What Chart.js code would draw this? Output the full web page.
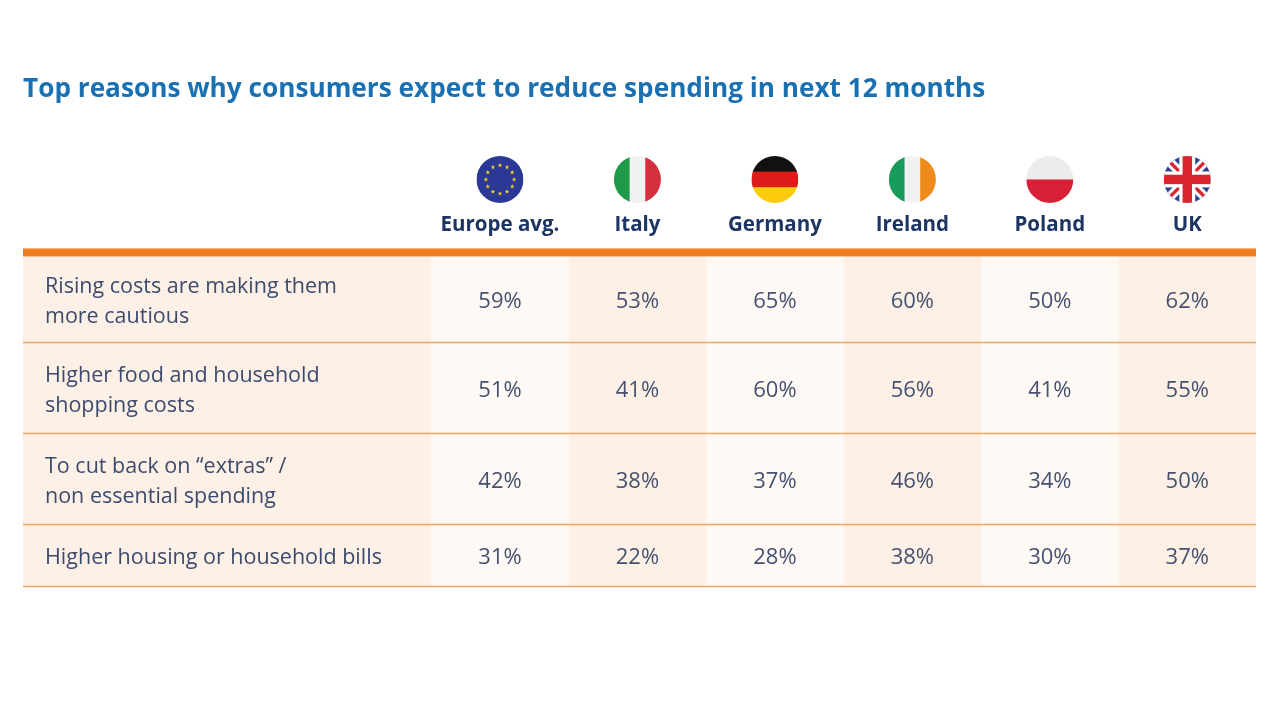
<!DOCTYPE html>
<html>
<head>
<meta charset="utf-8">
<script src="https://cdn.jsdelivr.net/npm/chart.js@4.4.1/dist/chart.umd.min.js"></script>
<style>
  html, body { margin: 0; padding: 0; background: #ffffff; }
  #wrap { width: 1280px; height: 720px; }
</style>
</head>
<body>
<div id="wrap"><canvas id="tableChart"></canvas></div>
<script>
// data
const reasons = [
  ['Rising costs are making them', 'more cautious'],
  ['Higher food and household', 'shopping costs'],
  ['To cut back on \u201cextras\u201d /', 'non essential spending'],
  ['Higher housing or household bills']
];
const countries = ['Europe avg.', 'Italy', 'Germany', 'Ireland', 'Poland', 'UK'];
const flags = ['eu', 'it', 'de', 'ie', 'pl', 'uk'];

const europeAvg = [59, 51, 42, 31];
const italy     = [53, 41, 38, 22];
const germany   = [65, 60, 37, 28];
const ireland   = [60, 56, 46, 38];
const poland    = [50, 41, 34, 30];
const uk        = [62, 55, 50, 37];
const seriesValues = [europeAvg, italy, germany, ireland, poland, uk];

// layout (table units, not data)
const labelSpan = 2.97;            // label column width in column units
const rowSizes = [87, 91, 91, 62];  // relative row heights
const rowEdges = [0];
rowSizes.forEach((s, i) => rowEdges.push(rowEdges[i] + s));
const rowMid = i => (rowEdges[i] + rowEdges[i + 1]) / 2 + 2;

const FONT = "'Open Sans'";
const peach = '#fdf1e7';
const light = '#fef9f5';
const orange = '#ee7d1c';
const thinLine = '#f0a561';

function drawFlag(ctx, kind, cx, cy, r) {
  ctx.save();
  ctx.beginPath();
  ctx.arc(cx, cy, r, 0, Math.PI * 2);
  ctx.clip();
  const x0 = cx - r, y0 = cy - r, d = 2 * r;
  if (kind === 'eu') {
    ctx.fillStyle = '#2b3896';
    ctx.fillRect(x0, y0, d, d);
    ctx.fillStyle = '#f6d21c';
    for (let k = 0; k < 12; k++) {
      const a = k * Math.PI / 6;
      const sx = cx + Math.cos(a) * r * 0.6, sy = cy + Math.sin(a) * r * 0.6;
      ctx.beginPath();
      for (let p = 0; p < 10; p++) {
        const rr = p % 2 === 0 ? 2.4 : 1.0;
        const aa = -Math.PI / 2 + p * Math.PI / 5;
        ctx.lineTo(sx + Math.cos(aa) * rr, sy + Math.sin(aa) * rr);
      }
      ctx.closePath();
      ctx.fill();
    }
  } else if (kind === 'it' || kind === 'ie') {
    const cols = kind === 'it' ? ['#1f9a4b', '#f1f1f1', '#d3313d'] : ['#179a5a', '#f1f1f1', '#ef8a1d'];
    cols.forEach((c, k) => { ctx.fillStyle = c; ctx.fillRect(x0 + k * d / 3, y0, d / 3 + 0.5, d); });
  } else if (kind === 'de') {
    ['#111111', '#dd1c1c', '#fccc0a'].forEach((c, k) => { ctx.fillStyle = c; ctx.fillRect(x0, y0 + k * d / 3, d, d / 3 + 0.5); });
  } else if (kind === 'pl') {
    ctx.fillStyle = '#ececec'; ctx.fillRect(x0, y0, d, d / 2);
    ctx.fillStyle = '#d81f35'; ctx.fillRect(x0, cy, d, d / 2);
  } else if (kind === 'uk') {
    ctx.fillStyle = '#2a3f8f';
    ctx.fillRect(x0, y0, d, d);
    ctx.lineCap = 'butt';
    ctx.strokeStyle = '#ffffff'; ctx.lineWidth = d * 0.2;
    ctx.beginPath(); ctx.moveTo(x0, y0); ctx.lineTo(x0 + d, y0 + d); ctx.moveTo(x0 + d, y0); ctx.lineTo(x0, y0 + d); ctx.stroke();
    ctx.strokeStyle = '#d9232e'; ctx.lineWidth = d * 0.07;
    ctx.beginPath(); ctx.moveTo(x0, y0); ctx.lineTo(x0 + d, y0 + d); ctx.moveTo(x0 + d, y0); ctx.lineTo(x0, y0 + d); ctx.stroke();
    ctx.fillStyle = '#ffffff';
    ctx.fillRect(cx - d * 0.17, y0, d * 0.34, d);
    ctx.fillRect(x0, cy - d * 0.17, d, d * 0.34);
    ctx.fillStyle = '#d9232e';
    ctx.fillRect(cx - d * 0.1, y0, d * 0.2, d);
    ctx.fillRect(x0, cy - d * 0.1, d, d * 0.2);
  }
  ctx.restore();
}

const tablePlugin = {
  id: 'tablePlugin',
  beforeDatasetsDraw(chart) {
    const { ctx, chartArea, scales: { x, y } } = chart;
    ctx.save();
    // label column
    ctx.fillStyle = peach;
    ctx.fillRect(x.getPixelForValue(-labelSpan), chartArea.top, x.getPixelForValue(0) - x.getPixelForValue(-labelSpan), chartArea.bottom - chartArea.top);
    // country columns
    countries.forEach((c, i) => {
      ctx.fillStyle = i % 2 === 0 ? light : peach;
      const l = x.getPixelForValue(i), r = x.getPixelForValue(i + 1);
      ctx.fillRect(l, chartArea.top, r - l, chartArea.bottom - chartArea.top);
    });
    // thick header rule
    ctx.fillStyle = orange;
    ctx.fillRect(chartArea.left, chartArea.top - 8, chartArea.right - chartArea.left, 8);
    // row rules
    ctx.strokeStyle = thinLine;
    ctx.lineWidth = 1.5;
    rowEdges.slice(1).forEach(v => {
      const py = Math.round(y.getPixelForValue(v)) - 0.5;
      ctx.beginPath(); ctx.moveTo(chartArea.left, py); ctx.lineTo(chartArea.right, py); ctx.stroke();
    });
    // header: flags and names
    ctx.textAlign = 'center';
    ctx.textBaseline = 'middle';
    countries.forEach((c, i) => {
      const cx = x.getPixelForValue(i + 0.5);
      drawFlag(ctx, flags[i], cx, chartArea.top - 77, 23.5);
      ctx.fillStyle = '#1c3562';
      ctx.font = 'bold 20.5px ' + FONT;
      ctx.fillText(c, cx, chartArea.top - 31);
    });
    // row labels
    ctx.textAlign = 'left';
    ctx.fillStyle = '#3c4b6d';
    ctx.font = '21.5px ' + FONT;
    reasons.forEach((lines, r) => {
      const cy = y.getPixelForValue(rowMid(r));
      const lx = x.getPixelForValue(-labelSpan) + 22;
      lines.forEach((t, k) => {
        ctx.fillText(t, lx, cy + (k - (lines.length - 1) / 2) * 30);
      });
    });
    ctx.restore();
  },
  afterDatasetsDraw(chart) {
    const { ctx } = chart;
    ctx.save();
    ctx.textAlign = 'center';
    ctx.textBaseline = 'middle';
    ctx.fillStyle = '#45516f';
    ctx.font = '22px ' + FONT;
    chart.data.datasets.forEach((ds, i) => {
      chart.getDatasetMeta(i).data.forEach((pt, j) => {
        ctx.fillText(ds.data[j].v + '%', pt.x, pt.y);
      });
    });
    ctx.restore();
  }
};

new Chart(document.getElementById('tableChart'), {
  type: 'scatter',
  data: {
    datasets: countries.map((c, i) => ({
      label: c,
      data: seriesValues[i].map((v, r) => ({ x: i + 0.5, y: rowMid(r), v: v })),
      pointRadius: 0,
      pointHoverRadius: 0
    }))
  },
  options: {
    responsive: true,
    maintainAspectRatio: false,
    animation: false,
    layout: { padding: { left: 23, right: 24, top: 0, bottom: 133 } },
    scales: {
      x: { type: 'linear', min: -labelSpan, max: countries.length, display: false },
      y: { type: 'linear', min: 0, max: rowEdges[rowEdges.length - 1], reverse: true, display: false }
    },
    plugins: {
      legend: { display: false },
      tooltip: { enabled: false },
      title: {
        display: true,
        text: 'Top reasons why consumers expect to reduce spending in next 12 months',
        align: 'start',
        color: '#1b70b1',
        font: { family: FONT, size: 26.2, weight: 'bold' },
        padding: { top: 74, bottom: 151 }
      }
    }
  },
  plugins: [tablePlugin]
});
</script>
</body>
</html>
